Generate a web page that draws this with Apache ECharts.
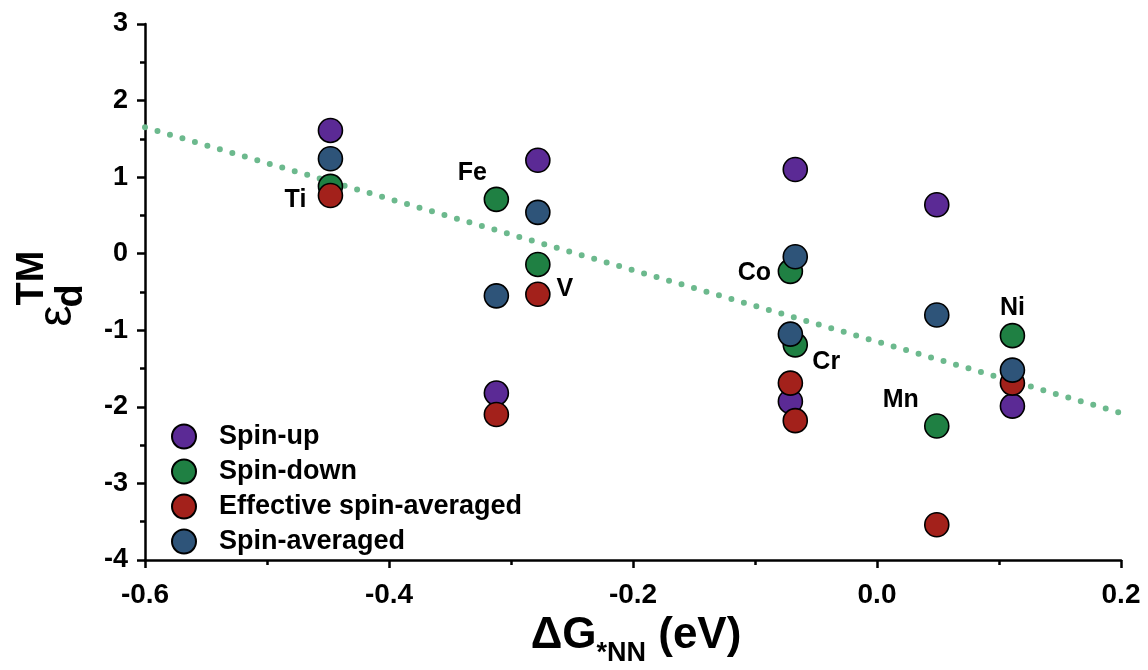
<!DOCTYPE html>
<html>
<head>
<meta charset="utf-8">
<script src="https://cdn.jsdelivr.net/npm/echarts@6/dist/echarts.min.js"></script>
<style>
  html, body { margin: 0; padding: 0; background: #fff; }
  #chart { width: 1148px; height: 670px; }
</style>
</head>
<body>
<div id="chart"></div>
<script>
// Transition metals and their *NN adsorption free energy (eV)
const elements = ['Ti', 'Fe', 'V', 'Co', 'Cr', 'Mn', 'Ni'];
const deltaG = [-0.448, -0.312, -0.278, -0.071, -0.067, 0.049, 0.111];

// d-band centre of the transition metal (eV)
const spinUp     = [1.61, -1.82, 1.22, -1.93, 1.10, 0.64, -1.99];
const spinDown   = [0.88, 0.71, -0.14, -0.23, -1.19, -2.25, -1.07];
const effSpinAvg = [0.76, -2.10, -0.53, -1.69, -2.18, -3.54, -1.69];
const spinAvg    = [1.24, -0.55, 0.54, -1.05, -0.04, -0.80, -1.52];

// linear trend (dotted line)
const trendX = [-0.6, 0.2];
const trendY = [1.65, -2.08];

const seriesNames = ['Spin-up', 'Spin-down', 'Effective spin-averaged', 'Spin-averaged'];
const xTickLabels = ['-0.6', '-0.4', '-0.2', '0.0', '0.2'];
const yTickLabels = ['-4', '-3', '-2', '-1', '0', '1', '2', '3'];

const FONT = 'Liberation Sans, Arial, Helvetica, sans-serif';
const colors = ['#5b2a95', '#1f8043', '#a3211b', '#2e5479'];

// where each element name sits relative to its spin-down marker (px)
const nameOffsets = {
  Ti: [-35, 14], Fe: [-24, -26], V: [27, 25], Co: [-36, 2],
  Cr: [31, 17], Mn: [-36, -26], Ni: [0, -28]
};

const zip = (xs, ys) => xs.map((x, i) => [x, ys[i]]);

const chart = echarts.init(document.getElementById('chart'), null, { renderer: 'canvas' });

// text measuring for the composed axis titles
const mctx = document.createElement('canvas').getContext('2d');
function textWidth(str, size, weight) {
  mctx.font = (weight || 'bold') + ' ' + size + 'px ' + FONT;
  return mctx.measureText(str).width;
}

function xTitle() {
  const parts = [
    { t: '\u0394G', size: 44, y: 636 },
    { t: '*NN', size: 27, y: 654 },
    { t: ' (eV)', size: 44, y: 636 }
  ];
  const widths = parts.map(p => textWidth(p.t, p.size));
  const total = widths.reduce((a, b) => a + b, 0);
  let x = 636 - total / 2;
  return parts.map((p, i) => {
    const el = {
      type: 'text', x: x, y: p.y,
      style: {
        text: p.t, fontSize: p.size, fontWeight: 'bold', fontFamily: FONT,
        fill: '#000', align: 'left', verticalAlign: 'middle'
      },
      silent: true
    };
    x += widths[i];
    return el;
  });
}

function yTitle() {
  const mk = (t, x, y, size, weight) => ({
    type: 'text', x: x, y: y, rotation: Math.PI / 2,
    style: {
      text: t, fontSize: size, fontWeight: weight, fontFamily: FONT,
      fill: '#000', align: 'center', verticalAlign: 'middle'
    },
    silent: true
  });
  return [
    mk('\u03B5', 58, 316, 48, 'normal'),
    mk('d', 72, 296, 38, 'bold'),
    mk('TM', 33, 278, 38, 'bold')
  ];
}

const pointSeries = [spinUp, spinDown, effSpinAvg, spinAvg].map((vals, k) => ({
  name: seriesNames[k],
  type: 'scatter',
  data: zip(deltaG, vals),
  symbol: 'circle',
  symbolSize: 24,
  itemStyle: { color: colors[k], borderColor: '#000', borderWidth: 1.6, opacity: 1 },
  z: 3 + k
}));

const axisCommon = {
  axisLine: { show: true, onZero: false, lineStyle: { color: '#000', width: 2.5 } },
  axisTick: { show: true, inside: false, length: 8, lineStyle: { color: '#000', width: 2.5 } },
  minorTick: { show: true, splitNumber: 2, length: 5, lineStyle: { color: '#000', width: 2.5 } },
  splitLine: { show: false }
};

const option = {
  animation: false,
  backgroundColor: '#fff',
  grid: { left: 145, right: 27, top: 24, bottom: 110, containLabel: false },
  xAxis: Object.assign({
    type: 'value', min: -0.6, max: 0.2, interval: 0.2,
    axisLabel: {
      color: '#000', fontSize: 28, fontWeight: 'bold', fontFamily: FONT, margin: 21,
      formatter: (v, i) => xTickLabels[i]
    }
  }, axisCommon),
  yAxis: Object.assign({
    type: 'value', min: -4, max: 3, interval: 1,
    axisLabel: {
      color: '#000', fontSize: 27, fontWeight: 'bold', fontFamily: FONT, margin: 17,
      formatter: (v, i) => yTickLabels[i]
    }
  }, axisCommon),
  legend: {
    data: seriesNames,
    orient: 'vertical',
    left: 171, top: 423,
    padding: 0,
    icon: 'circle',
    itemWidth: 24, itemHeight: 24, itemGap: 8,
    textStyle: { color: '#000', fontSize: 27, fontWeight: 'bold', fontFamily: FONT, padding: [0, 0, 0, 18] },
    selectedMode: false
  },
  graphic: xTitle().concat(yTitle()),
  series: [
    {
      name: 'trend',
      type: 'line',
      data: zip(trendX, trendY),
      symbol: 'none',
      lineStyle: { color: '#6cb98d', width: 6, type: [0, 13], cap: 'round' },
      z: 2,
      silent: true
    }
  ].concat(pointSeries).concat([
    {
      name: 'element names',
      type: 'scatter',
      data: zip(deltaG, spinDown).map((p, i) => ({
        value: p,
        label: { offset: nameOffsets[elements[i]] }
      })),
      symbolSize: 1,
      itemStyle: { color: 'rgba(0,0,0,0)', borderWidth: 0, opacity: 1 },
      label: {
        show: true, position: 'inside',
        formatter: p => elements[p.dataIndex],
        color: '#000', opacity: 1, fontSize: 25, fontWeight: 'bold', fontFamily: FONT
      },
      z: 10,
      silent: true
    }
  ])
};

chart.setOption(option);
</script>
</body>
</html>
